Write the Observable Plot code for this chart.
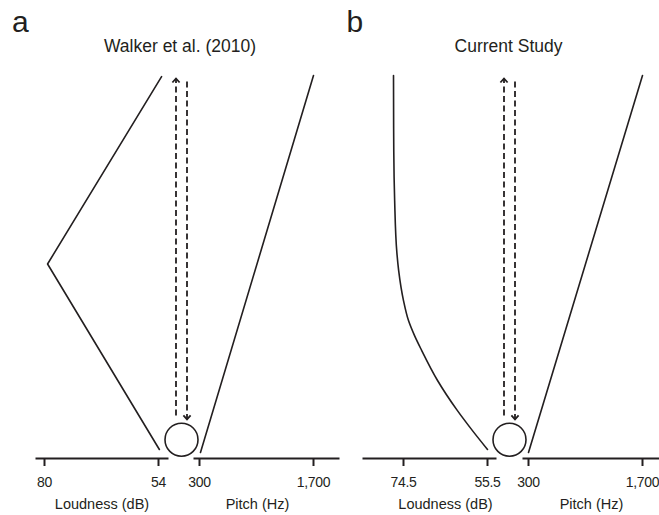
<!DOCTYPE html>
<html><head><meta charset="utf-8">
<script src="https://cdn.jsdelivr.net/npm/d3@7"></script>
<script src="https://cdn.jsdelivr.net/npm/@observablehq/plot@0.6"></script>
<style>
body{margin:0;background:#fff;}
#chart{position:relative;width:659px;height:515px;overflow:hidden;font-family:"Liberation Sans",Arial,sans-serif;color:#231f20;}
#chart svg{position:absolute;left:0;top:0;}
#chart g[aria-label="x-axis tick label"] text{letter-spacing:-0.3px;}
.letter{position:absolute;font-size:30px;line-height:1;}
.title{position:absolute;font-size:17.5px;line-height:1;white-space:nowrap;transform:translateX(-50%);}
</style></head><body><div id="chart"></div>
<script>
// ---- data ----
const panelLetters = ["a", "b"];
const panelTitles = ["Walker et al. (2010)", "Current Study"];
const loudnessLabel = "Loudness (dB)";
const pitchLabel = "Pitch (Hz)";
const loudnessTicksA = [80, 54];
const loudnessTicksB = [74.5, 55.5];
const pitchTicks = [300, 1700];
// level: 0 = bottom of mapping, 1 = top
const loudnessA = [
  {dB: 53.3, level: 0.997},
  {dB: 79.3, level: 0.5},
  {dB: 53.8, level: 0.008}
];
const loudnessB = [
  {dB: 76.76, level: 1.0},
  {dB: 76.7, level: 0.80},
  {dB: 76.5, level: 0.668},
  {dB: 76.0, level: 0.53},
  {dB: 75.6, level: 0.483},
  {dB: 74.5, level: 0.403},
  {dB: 73.37, level: 0.350},
  {dB: 72.0, level: 0.310},
  {dB: 70.4, level: 0.271},
  {dB: 66.8, level: 0.191},
  {dB: 62.3, level: 0.111},
  {dB: 58.9, level: 0.058},
  {dB: 55.5, level: 0.008}
];
const pitchA = [{hz: 312, level: 0}, {hz: 1700, level: 1}];
const pitchB = [{hz: 300, level: 0}, {hz: 1700, level: 1}];
const arrows = [
  {lane: -1, from: 0.098, to: 0.992, rotate: 0},
  {lane: 1, from: 0.984, to: 0.088, rotate: 180}
];
const circleLevels = [0.034];

// ---- layout ----
const W = 659, H = 515, AXIS_Y = 458;
const Y_RANGE = [452, 75];
const INK = "#231f20";
const STYLE = {background: "transparent", fontFamily: "Liberation Sans, Arial, sans-serif", color: INK, overflow: "visible"};
const layouts = [
  {loudLine: [36, 167], loudRange: [44, 158], loudLabelX: 101.5, pitchLine: [194, 338], pitchRange: [199, 313], pitchLabelX: 257, center: [175.5, 186.5], titleX: 180, letterX: 12},
  {loudLine: [363, 495], loudRange: [403, 487], loudLabelX: 445, pitchLine: [523, 659], pitchRange: [528, 642], pitchLabelX: 591, center: [503.5, 514.5], titleX: 508.5, letterX: 346.5}
];
const chevron = {
  draw(ctx, size) {
    const r = Math.sqrt(size / Math.PI);
    ctx.moveTo(-r * 0.9, r * 1.0);
    ctx.lineTo(0, 0);
    ctx.lineTo(r * 0.9, r * 1.0);
  }
};

function axisLayer(line, range, domain, ticks, fmt, label, labelX, series, key, curve) {
  return Plot.plot({
    width: W, height: H,
    marginLeft: line[0], marginRight: W - line[1], marginTop: 0, marginBottom: H - AXIS_Y,
    style: STYLE,
    x: {domain, range},
    y: {domain: [0, 1], range: Y_RANGE, axis: null},
    marks: [
      Plot.frame({anchor: "bottom", stroke: INK, strokeWidth: 2}),
      Plot.axisX(ticks, {tickSize: 8, tickPadding: 11, tickFormat: fmt, fontSize: 14, strokeWidth: 2, label: null}),
      Plot.text([label], {frameAnchor: "bottom-left", textAnchor: "middle", lineAnchor: "top", dx: labelX - line[0], dy: 40, fontSize: 14.5, fill: INK}),
      Plot.line(series, {x: key, y: "level", stroke: INK, strokeWidth: 1.6, curve})
    ]
  });
}

function centerLayer(range) {
  return Plot.plot({
    width: W, height: H, margin: 0,
    style: STYLE,
    x: {domain: [-1, 1], range, axis: null},
    y: {domain: [0, 1], range: Y_RANGE, axis: null},
    marks: [
      Plot.dot(circleLevels, {x: () => 0, y: d => d, r: 16.5, stroke: INK, strokeWidth: 1.6, fill: "none"}),
      Plot.link(arrows, {x1: "lane", x2: "lane", y1: "from", y2: "to", stroke: INK, strokeWidth: 1.8, strokeDasharray: "6,3.5"}),
      Plot.dot(arrows, {x: "lane", y: "to", rotate: "rotate", symbol: chevron, r: 4, stroke: INK, strokeWidth: 1.8, fill: "none"})
    ]
  });
}

const chart = document.getElementById("chart");
const loudTicks = [loudnessTicksA, loudnessTicksB];
const loudSeries = [loudnessA, loudnessB];
const pitchSeries = [pitchA, pitchB];
layouts.forEach((L, i) => {
  const lt = loudTicks[i];
  chart.appendChild(axisLayer(L.loudLine, L.loudRange, lt, lt, d => String(d), loudnessLabel, L.loudLabelX, loudSeries[i], "dB", i === 0 ? "linear" : "monotone-y"));
  chart.appendChild(axisLayer(L.pitchLine, L.pitchRange, pitchTicks, pitchTicks, d3.format(","), pitchLabel, L.pitchLabelX, pitchSeries[i], "hz", "linear"));
  chart.appendChild(centerLayer(L.center));
  const letter = document.createElement("div");
  letter.className = "letter";
  letter.textContent = panelLetters[i];
  letter.style.left = L.letterX + "px";
  letter.style.top = "6.6px";
  chart.appendChild(letter);
  const title = document.createElement("div");
  title.className = "title";
  title.textContent = panelTitles[i];
  title.style.left = L.titleX + "px";
  title.style.top = "38.2px";
  chart.appendChild(title);
});
</script></body></html>
